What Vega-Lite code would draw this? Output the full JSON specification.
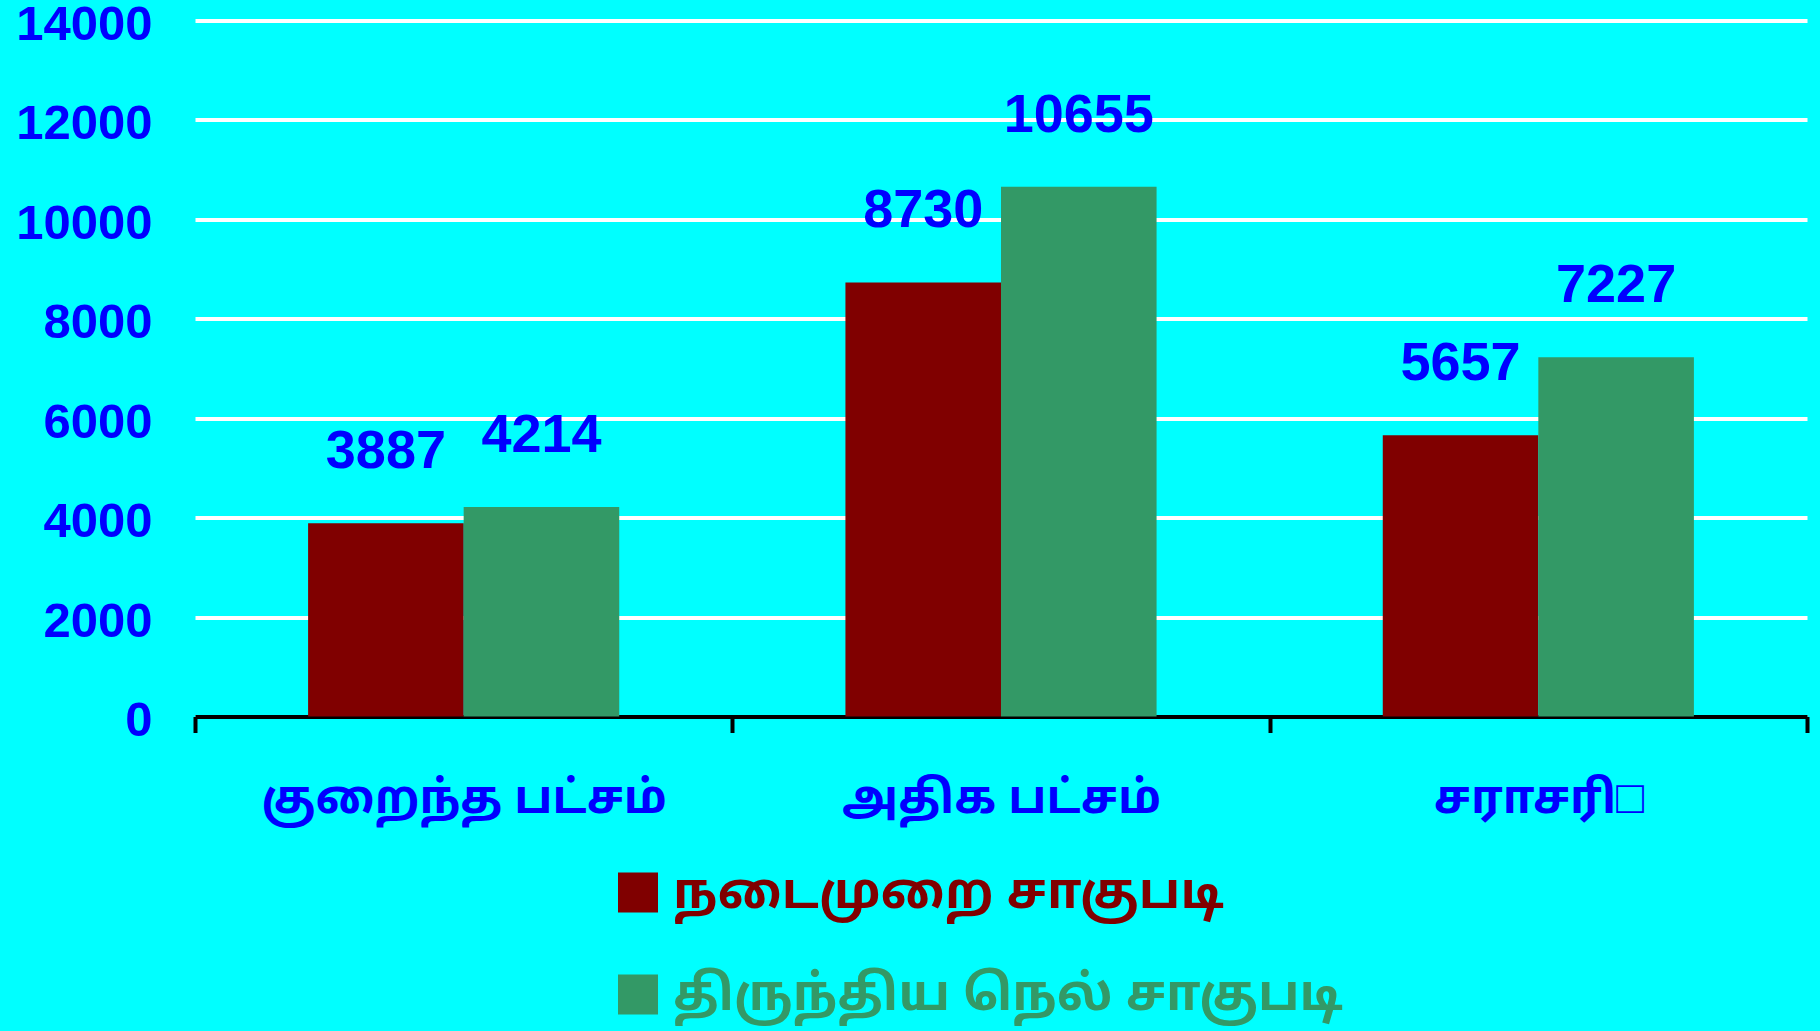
{
  "$schema": "https://vega.github.io/schema/vega-lite/v6.json",
  "autosize": {"type": "none"},
  "width": 1612,
  "height": 696,
  "padding": {"left": 195, "top": 20.5, "right": 13, "bottom": 314.5},
  "background": "#00FFFF",
  "config": {
    "view": {"stroke": null},
    "font": "Liberation Sans"
  },
  "data": {
    "values": [
      {"category": "குறைந்த பட்சம்", "series": "நடைமுறை சாகுபடி", "value": 3887},
      {"category": "குறைந்த பட்சம்", "series": "திருந்திய நெல் சாகுபடி", "value": 4214},
      {"category": "அதிக பட்சம்", "series": "நடைமுறை சாகுபடி", "value": 8730},
      {"category": "அதிக பட்சம்", "series": "திருந்திய நெல் சாகுபடி", "value": 10655},
      {"category": "சராசரி□", "series": "நடைமுறை சாகுபடி", "value": 5657},
      {"category": "சராசரி□", "series": "திருந்திய நெல் சாகுபடி", "value": 7227}
    ]
  },
  "encoding": {
    "x": {
      "field": "category", "type": "nominal", "sort": null,
      "scale": {"paddingInner": 0, "paddingOuter": 0},
      "axis": {
        "title": null, "tickBand": "extent", "domainColor": "#000000", "domainWidth": 4,
        "tickColor": "#000000", "tickWidth": 4, "tickSize": 16, "labelAngle": 0,
        "labelColor": "#0000FF", "labelFontSize": 46, "labelFont": "Noto Sans Tamil, Noto Sans, sans-serif",
        "labelFontWeight": "bold", "labelBaseline": "alphabetic", "labelPadding": 80, "grid": false,
        "labelLimit": 0
      }
    },
    "xOffset": {
      "field": "series", "type": "nominal", "sort": null,
      "scale": {"paddingInner": 0, "paddingOuter": 0.727}
    },
    "y": {
      "field": "value", "type": "quantitative",
      "scale": {"domain": [0, 14000], "nice": false},
      "axis": {
        "title": null, "values": [0, 2000, 4000, 6000, 8000, 10000, 12000, 14000],
        "format": "d", "domain": false, "ticks": false, "grid": true, "gridColor": "#FFFFFF",
        "gridWidth": 4, "gridOpacity": 1, "labelColor": "#0000FF", "labelFontSize": 49,
        "labelFontWeight": "bold", "labelPadding": 43, "labelOffset": 4
      }
    }
  },
  "layer": [
    {
      "mark": {"type": "bar"},
      "encoding": {
        "color": {
          "field": "series", "type": "nominal", "sort": null,
          "scale": {"domain": ["நடைமுறை சாகுபடி", "திருந்திய நெல் சாகுபடி"], "range": ["#800000", "#339966"]},
          "legend": {
            "title": null, "orient": "none", "legendX": 418, "legendY": 847, "direction": "vertical",
            "padding": 0, "symbolType": "square", "symbolSize": 1600, "symbolStrokeWidth": 0,
            "labelFontSize": 50, "labelFont": "Noto Sans Tamil, Noto Sans, sans-serif", "labelFontWeight": "bold",
            "labelOffset": 10, "rowPadding": 52, "labelLimit": 1000,
            "encode": {"labels": {"update": {"fill": {"signal": "datum.label === 'நடைமுறை சாகுபடி' ? '#800000' : '#339966'"}}}}
          }
        }
      }
    },
    {
      "mark": {"type": "text", "baseline": "alphabetic", "dy": -55, "fontSize": 54, "fontWeight": "bold", "color": "#0000FF"},
      "encoding": {"text": {"field": "value", "type": "quantitative", "format": "d"}}
    }
  ]
}
